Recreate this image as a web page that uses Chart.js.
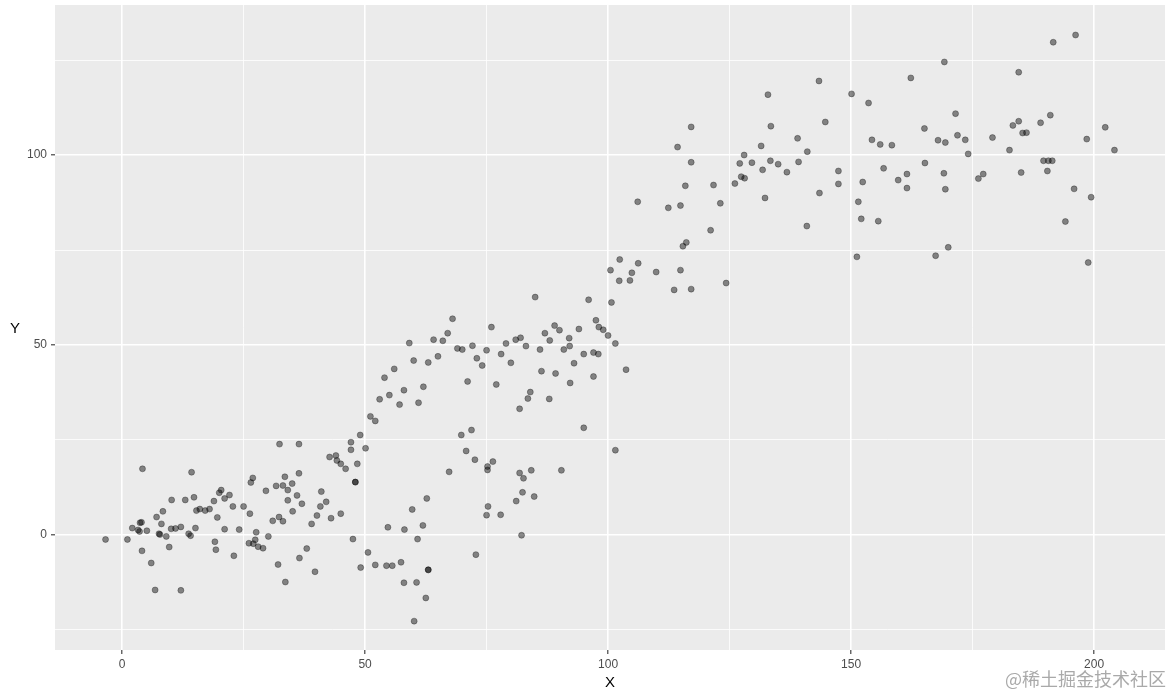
<!DOCTYPE html>
<html>
<head>
<meta charset="utf-8">
<script src="https://cdn.jsdelivr.net/npm/chart.js@4.4.0/dist/chart.umd.min.js"></script>
<style>
html,body{margin:0;padding:0;background:#ffffff;}
canvas{display:block;}
</style>
</head>
<body>
<canvas id="c" width="1170" height="694"></canvas>
<script>
// ---- data ----
const xValues = [
  -3.4, 1.1, 4.2, 14.3, 2.1, 3.3, 3.7, 4.0, 3.6, 5.1,
  4.1, 6.0, 6.8, 12.1, 7.1, 8.1, 8.4, 7.6, 7.8, 9.1,
  9.7, 10.2, 10.1, 11.0, 12.1, 13.0, 13.7, 14.1, 14.8, 15.1,
  15.3, 16.0, 17.1, 18.0, 18.9, 19.6, 19.1, 19.3, 20.0, 20.4,
  21.1, 22.1, 21.1, 22.8, 23.0, 24.1, 25.0, 26.3, 26.5, 26.9,
  27.6, 27.4, 26.1, 27.0, 28.0, 29.0, 29.6, 30.1, 31.0, 32.3,
  33.1, 32.1, 33.6, 32.4, 31.7, 33.1, 33.5, 34.1, 35.0, 34.1,
  35.1, 36.0, 36.4, 36.5, 36.4, 37.0, 38.0, 39.7, 39.0, 40.1,
  40.8, 41.0, 42.0, 43.0, 42.7, 44.0, 44.2, 45.0, 46.0, 45.0,
  47.1, 47.1, 49.0, 50.1, 48.4, 48.0, 48.0, 47.5, 49.1, 50.6,
  52.1, 54.4, 55.6, 57.4, 54.7, 58.1, 58.0, 60.6, 60.1, 62.5,
  63.0, 63.0, 60.8, 59.7, 61.9, 62.7, 67.3, 72.8, 75.2, 75.2,
  75.3, 75.0, 51.1, 52.1, 53.0, 55.0, 57.1, 58.0, 61.0, 62.0,
  54.0, 56.0, 60.0, 63.0, 71.1, 69.8, 71.9, 70.8, 72.6, 68.0,
  67.0, 64.1, 66.0, 59.1, 69.0, 70.0, 65.0, 85.0, 96.0, 100.7,
  76.0, 72.1, 75.0, 73.0, 74.1, 77.0, 78.0, 79.0, 80.0, 81.0,
  82.0, 83.1, 84.0, 83.5, 81.8, 86.0, 86.3, 87.0, 88.0, 87.9,
  89.0, 90.0, 89.2, 90.9, 92.0, 92.1, 93.0, 92.2, 94.0, 95.0,
  97.0, 98.0, 97.0, 95.0, 97.5, 98.1, 99.0, 100.0, 101.5, 103.7,
  101.5, 76.3, 81.8, 82.6, 84.2, 90.4, 82.4, 81.1, 84.8, 77.9,
  82.2, 117.1, 114.3, 117.1, 115.9, 121.7, 123.1, 106.1, 112.4, 114.9,
  121.1, 116.1, 115.4, 102.4, 100.5, 106.2, 104.9, 102.3, 104.5, 109.9,
  114.9, 113.6, 117.1, 124.3, 143.4, 132.9, 150.1, 153.6, 133.5, 144.7,
  139.0, 141.0, 131.5, 128.0, 127.1, 129.6, 133.4, 135.0, 139.2, 131.8,
  136.8, 127.4, 128.1, 126.1, 132.3, 140.9, 143.5, 147.4, 147.4, 152.4,
  151.5, 152.1, 155.6, 151.2, 154.3, 156.0, 158.4, 156.7, 159.7, 162.3,
  169.2, 171.5, 165.1, 167.9, 169.4, 171.9, 173.5, 174.1, 165.2, 161.5,
  161.5, 169.1, 169.4, 176.2, 177.2, 179.1, 182.6, 183.3, 184.5, 184.5,
  185.3, 186.1, 185.0, 189.0, 191.0, 191.6, 196.2, 189.6, 190.6, 191.4,
  190.4, 198.5, 202.3, 204.2, 195.9, 199.4, 194.1, 167.4, 170.0, 198.8
];
const yValues = [
  -1.2, -1.2, 17.4, 16.5, 1.8, 1.3, 3.2, 3.3, 0.9, 1.1,
  -4.2, -7.4, -14.5, -14.6, 4.7, 2.9, 6.2, 0.3, 0.1, -0.4,
  -3.2, 9.2, 1.6, 1.7, 2.1, 9.2, 0.3, -0.2, 9.9, 1.8,
  6.4, 6.8, 6.4, 6.8, 8.9, 4.6, -1.8, -3.9, 11.1, 11.8,
  9.6, 10.5, 1.5, 7.5, -5.5, 1.4, 7.5, 5.6, 13.8, 15.0,
  0.7, -1.3, -2.2, -2.3, -3.1, -3.5, 11.6, -0.4, 3.7, 4.7,
  3.6, -7.8, -12.4, 23.9, 12.9, 13.0, 15.3, 11.8, 13.5, 9.1,
  6.2, 10.4, 23.9, -6.1, 16.2, 8.2, -3.6, -9.7, 2.9, 5.1,
  7.5, 11.4, 8.7, 4.4, 20.5, 20.9, 19.6, 18.7, 17.4, 5.6,
  24.4, 22.4, 26.3, 22.8, 18.7, 13.9, 13.9, -1.1, -8.6, -4.6,
  -7.9, -8.1, -8.1, -7.2, 2.0, 1.4, -12.6, -12.5, -22.7, -16.6,
  -9.2, -9.2, -1.1, 6.7, 2.5, 9.6, 16.6, -5.2, 18.0, 17.1,
  7.5, 5.2, 31.2, 30.0, 35.7, 36.8, 34.3, 38.1, 34.8, 39.0,
  41.4, 43.7, 45.9, 45.4, 40.4, 26.3, 27.6, 22.1, 19.8, 56.9,
  53.1, 51.4, 51.1, 50.5, 49.1, 48.8, 47.0, 62.6, 61.9, 61.2,
  54.7, 49.8, 48.6, 46.5, 44.6, 39.6, 47.6, 50.4, 45.3, 51.4,
  51.9, 49.7, 37.6, 35.9, 33.2, 48.8, 43.1, 53.1, 51.2, 35.8,
  55.1, 53.9, 42.5, 48.8, 51.8, 49.7, 45.2, 40.0, 54.2, 47.6,
  48.0, 47.6, 41.7, 28.2, 56.5, 54.7, 54.0, 52.5, 50.4, 43.5,
  22.3, 19.3, 16.3, 14.9, 17.0, 17.0, 11.2, 8.9, 10.1, 5.3,
  -0.1, 107.4, 102.1, 98.1, 91.9, 92.1, 87.3, 87.7, 86.1, 86.7,
  80.2, 77.0, 76.0, 72.5, 69.7, 71.5, 69.0, 66.9, 67.0, 69.2,
  69.7, 64.5, 64.7, 66.3, 119.5, 115.9, 116.1, 113.7, 107.6, 108.7,
  104.4, 100.9, 102.4, 100.0, 97.8, 98.0, 98.5, 97.6, 98.2, 96.1,
  95.5, 94.3, 93.9, 92.5, 88.7, 81.3, 90.0, 95.8, 92.4, 92.9,
  87.7, 83.2, 82.6, 73.2, 104.0, 102.8, 102.6, 96.5, 93.4, 120.3,
  124.5, 110.9, 107.0, 103.9, 103.3, 105.2, 104.0, 100.3, 97.9, 95.0,
  91.3, 95.2, 91.0, 93.8, 95.0, 104.6, 101.3, 107.8, 108.9, 121.8,
  105.8, 105.9, 95.4, 108.5, 110.5, 129.7, 131.6, 98.5, 98.5, 98.5,
  95.8, 104.2, 107.3, 101.3, 91.1, 88.9, 82.5, 73.5, 75.7, 71.7
];
const xTickValues = [0, 25, 50, 75, 100, 125, 150, 175, 200];
const xTickLabels = ['0', '', '50', '', '100', '', '150', '', '200'];
const yTickValues = [-25, 0, 25, 50, 75, 100, 125];
const yTickLabels = ['', '0', '', '50', '', '100', ''];
const xTitle = 'X';
const yTitle = 'Y';
const watermark = '@稀土掘金技术社区';

// ---- drawing ----
const FONT = '"Liberation Sans", Arial, "DejaVu Sans", sans-serif';
const isMajor = v => Math.abs(v % 50) < 1e-9;

const panelPlugin = {
  id: 'panel',
  beforeDraw(chart) {
    const { ctx, chartArea: a } = chart;
    ctx.save();
    ctx.fillStyle = '#FFFFFF';
    ctx.fillRect(0, 0, chart.width, chart.height);
    ctx.fillStyle = '#EBEBEB';
    ctx.fillRect(a.left, a.top, a.right - a.left, a.bottom - a.top);
    ctx.restore();
  },
  afterDraw(chart) {
    const { ctx, chartArea: a } = chart;
    ctx.save();
    ctx.fillStyle = '#000000';
    ctx.font = '15px ' + FONT;
    ctx.textAlign = 'center';
    ctx.textBaseline = 'middle';
    ctx.fillText(xTitle, (a.left + a.right) / 2, 683);
    ctx.fillText(yTitle, 15, (a.top + a.bottom) / 2 + 1);
    ctx.font = '18px "Noto Sans CJK SC", sans-serif';
    ctx.fillStyle = 'rgba(140,140,140,0.75)';
    ctx.textAlign = 'right';
    ctx.fillText(watermark, 1166, 679);
    ctx.restore();
  }
};

const gridOpts = {
  color: '#FFFFFF',
  lineWidth: c => (c.tick && isMajor(c.tick.value)) ? 1.6 : 0.8,
  tickColor: c => (c.tick && isMajor(c.tick.value)) ? '#333333' : 'rgba(0,0,0,0)',
  tickLength: 4,
  tickWidth: 1.1,
  drawTicks: true
};

new Chart(document.getElementById('c'), {
  type: 'scatter',
  data: {
    datasets: [{
      data: xValues.map((x, i) => ({ x: x, y: yValues[i] })),
      backgroundColor: 'rgba(0,0,0,0.45)',
      borderColor: 'rgba(0,0,0,0.3)',
      borderWidth: 1,
      pointRadius: 3,
      pointHoverRadius: 3
    }]
  },
  options: {
    responsive: false,
    animation: false,
    devicePixelRatio: 1,
    events: [],
    layout: { padding: { left: 0, right: 5, top: 5, bottom: 0 } },
    plugins: { legend: { display: false }, tooltip: { enabled: false } },
    scales: {
      x: {
        type: 'linear',
        min: -13.8,
        max: 214.6,
        afterBuildTicks: s => { s.ticks = xTickValues.map(v => ({ value: v })); },
        afterFit: s => { s.height = 44; s.paddingLeft = 0; s.paddingRight = 0; },
        border: { display: false },
        grid: gridOpts,
        ticks: {
          autoSkip: false,
          maxRotation: 0,
          padding: 3,
          color: '#4D4D4D',
          font: { family: FONT, size: 12 },
          callback: (v, i) => xTickLabels[i]
        }
      },
      y: {
        type: 'linear',
        min: -30.3,
        max: 139.5,
        afterBuildTicks: s => { s.ticks = yTickValues.map(v => ({ value: v })); },
        afterFit: s => { s.width = 55; s.paddingTop = 0; s.paddingBottom = 0; },
        border: { display: false },
        grid: gridOpts,
        ticks: {
          autoSkip: false,
          padding: 4,
          color: '#4D4D4D',
          font: { family: FONT, size: 12 },
          callback: (v, i) => yTickLabels[i]
        }
      }
    }
  },
  plugins: [panelPlugin]
});
</script>
</body>
</html>
